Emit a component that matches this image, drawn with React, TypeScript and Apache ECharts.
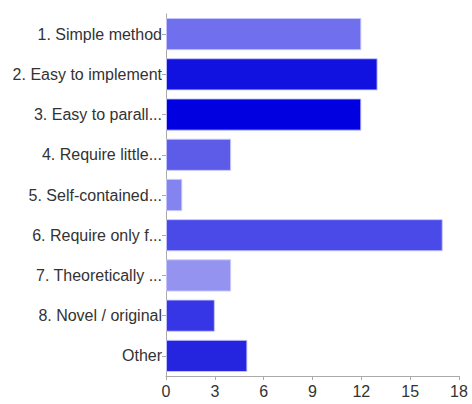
import React, { useEffect, useRef } from "react";
import * as echarts from "echarts";

const categories = [
  "1. Simple method",
  "2. Easy to implement",
  "3. Easy to parall...",
  "4. Require little...",
  "5. Self-contained...",
  "6. Require only f...",
  "7. Theoretically ...",
  "8. Novel / original",
  "Other",
];
const values = [12, 13, 12, 4, 1, 17, 4, 3, 5];
const barColors = [
  "#7070EE",
  "#1111E0",
  "#0000E0",
  "#5C5CE8",
  "#8484F0",
  "#4A4AE8",
  "#9494F0",
  "#3636E6",
  "#2525DF",
];
const xTicks = [0, 3, 6, 9, 12, 15, 18];

export default function App() {
  const ref = useRef<HTMLDivElement>(null);

  useEffect(() => {
    if (!ref.current) return;
    const chart = echarts.init(ref.current, undefined, { renderer: "svg" });
    chart.setOption({
      animation: false,
      grid: { left: 166, right: 13, top: 14, bottom: 28, containLabel: false },
      xAxis: {
        type: "value",
        min: xTicks[0],
        max: xTicks[xTicks.length - 1],
        interval: 3,
        splitLine: { show: false },
        axisLine: { show: true, lineStyle: { color: "#aaaaaa", width: 1 } },
        axisTick: { show: true, length: 4, lineStyle: { color: "#aaaaaa" } },
        axisLabel: {
          color: "#333333",
          fontSize: 16,
          fontFamily: "Liberation Sans, Arial, sans-serif",
          margin: 7,
        },
      },
      yAxis: {
        type: "category",
        data: categories,
        inverse: true,
        axisLine: { show: true, lineStyle: { color: "#aaaaaa", width: 1 } },
        axisTick: {
          show: true,
          alignWithLabel: true,
          length: 4,
          lineStyle: { color: "#aaaaaa" },
        },
        axisLabel: {
          color: "#333333",
          fontSize: 16,
          fontFamily: "Liberation Sans, Arial, sans-serif",
          margin: 4,
        },
      },
      series: [
        {
          type: "bar",
          data: values.map((v, i) => ({
            value: v,
            itemStyle: {
              color: barColors[i],
              borderColor: "rgba(200,200,255,0.9)",
              borderWidth: 1,
            },
          })),
          barCategoryGap: "20%",
        },
      ],
    });
    return () => chart.dispose();
  }, []);

  return (
    <div
      ref={ref}
      style={{ position: "fixed", left: 0, top: 0, width: 472, height: 404, background: "#ffffff" }}
    />
  );
}
